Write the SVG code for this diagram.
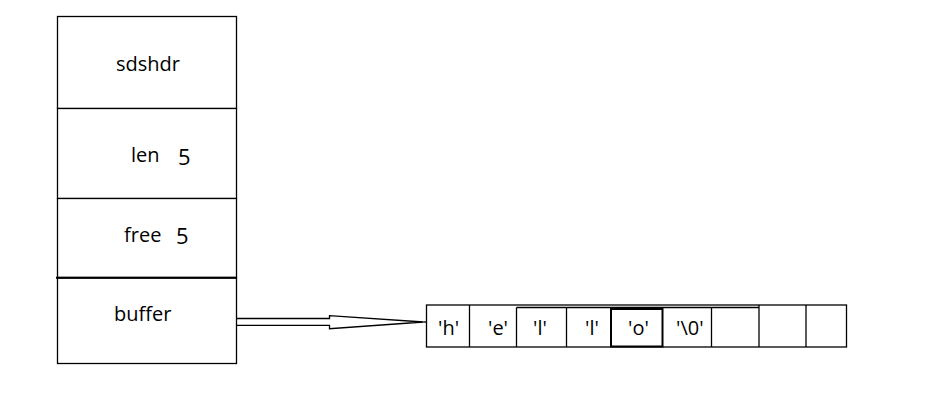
<svg xmlns="http://www.w3.org/2000/svg" width="934" height="407" viewBox="0 0 934 407">
<style>
.b{fill:#fff;stroke:#000;stroke-width:1.3}
.t{font-family:"Open Sans","Liberation Sans",sans-serif;font-size:20px;fill:#000}
.n{font-size:22px}
.l{stroke:#000;stroke-width:1.3;fill:none}
</style>
<rect width="934" height="407" fill="#fff"/>
<g id="sdshdr">
<rect class="b" x="57.5" y="16.5" width="179" height="92"/>
<text class="t" x="116" y="71">sdshdr</text>
</g>
<g id="len">
<rect class="b" x="57.5" y="108.5" width="179" height="90"/>
<text class="t" x="131" y="162">len</text>
<text class="t n" x="178" y="165">5</text>
</g>
<g id="free">
<rect class="b" x="57.5" y="198.5" width="179" height="79"/>
<text class="t" x="124" y="242">free</text>
<text class="t n" x="176" y="244">5</text>
</g>
<g id="buffer">
<rect class="b" x="57.5" y="278" width="179" height="85.5"/>
<line x1="56" y1="277.8" x2="236.5" y2="277.8" stroke="#000" stroke-width="2"/>
<text class="t" x="114" y="321">buffer</text>
</g>
<g id="array">
<rect class="b" x="426.5" y="305" width="420" height="42"/>
<line class="l" x1="516.5" y1="307.5" x2="759" y2="307.5"/>
<line class="l" x1="469.5" y1="305" x2="469.5" y2="347"/>
<line class="l" x1="516.5" y1="307.5" x2="516.5" y2="347"/>
<line class="l" x1="566.5" y1="307.5" x2="566.5" y2="347"/>
<line class="l" x1="711.5" y1="307.5" x2="711.5" y2="347"/>
<line class="l" x1="759" y1="305" x2="759" y2="347"/>
<line class="l" x1="806" y1="305" x2="806" y2="347"/>
<rect x="611" y="309" width="51.5" height="37.5" fill="none" stroke="#000" stroke-width="2"/>
<text class="t" x="438" y="335">'h'</text>
<text class="t" x="488" y="335">'e'</text>
<text class="t" x="533" y="335">'l'</text>
<text class="t" x="585" y="335">'l'</text>
<text class="t" x="628" y="335">'o'</text>
<text class="t" x="676" y="335">'\0'</text>
</g>
<g id="connectors">
<path class="l" d="M236.5,318.5 H329.5 V315.7 L423.5,322 L329.5,328.7 V325.3 H236.5"/>
<line class="l" x1="423.5" y1="322" x2="426.5" y2="322"/>
</g>
</svg>
